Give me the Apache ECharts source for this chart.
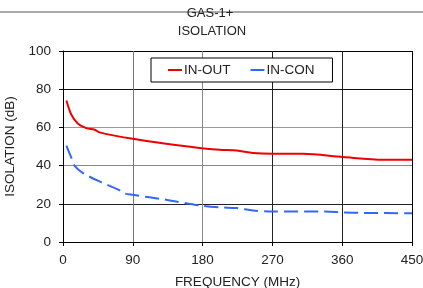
<!DOCTYPE html>
<html><head><meta charset="utf-8">
<script src="https://cdn.jsdelivr.net/npm/echarts@6/dist/echarts.min.js"></script>
<style>html,body{margin:0;padding:0;background:#fff}#c{width:423px;height:288px}</style>
</head><body><div id="c"></div>
<script>
const titleLines = ['GAS-1+', 'ISOLATION'];
const xTicks = [0, 90, 180, 270, 360, 450];
const yTicks = [0, 20, 40, 60, 80, 100];
const inOutFreq = [4.4, 10.8, 19.4, 30, 41, 47, 90, 133, 176, 202, 224, 245, 270, 309, 361, 413, 450];
const inOutVal  = [74.1, 66.6, 61.9, 59.6, 58.8, 57.4, 54, 51.4, 49.2, 48.3, 47.9, 46.6, 46.2, 46.2, 44.5, 43.1, 43.1];
const inConFreq = [4.4, 10.8, 15, 25.8, 47, 72, 78, 90, 133, 176, 202, 224, 245, 270, 338, 361, 388, 450];
const inConVal  = [50.4, 44, 39.9, 36.1, 31.7, 27.3, 25.6, 24.7, 22.1, 19.1, 18.1, 17.8, 16.5, 16, 16, 15.5, 15.2, 15.1];

const font = '"Liberation Sans", Arial, sans-serif';
const chart = echarts.init(document.getElementById('c'));
chart.setOption({
  animation: false,
  graphic: [
    {type: 'line', shape: {x1: 0, y1: 12, x2: 423, y2: 12}, style: {stroke: '#555', lineWidth: 1}, z: 0},
    {type: 'text', x: 210, y: 7, style: {text: titleLines[0], font: '13px ' + font, fill: '#222', align: 'center'}, z: 5},
    {type: 'text', x: 212, y: 25, style: {text: titleLines[1], font: '13px ' + font, fill: '#222', align: 'center'}}
  ],
  legend: {
    left: 151, top: 58,
    padding: [5, 18, 5, 17],
    borderColor: '#000', borderWidth: 1, backgroundColor: '#fff',
    itemWidth: 14, itemHeight: 2, itemGap: 20,
    icon: 'rect',
    textStyle: {fontFamily: font, fontSize: 13.5, color: '#222', padding: [0, 0, 0, -3]},
    data: ['IN-OUT', 'IN-CON']
  },
  grid: {left: 63, right: 11, top: 51, bottom: 46, containLabel: false, outerBoundsMode: 'none'},
  xAxis: {
    type: 'value', min: xTicks[0], max: xTicks[xTicks.length - 1], interval: 90,
    name: 'FREQUENCY (MHz)', nameLocation: 'middle', nameGap: 33,
    nameTextStyle: {fontFamily: font, fontSize: 13.5, color: '#222'},
    axisLine: {lineStyle: {color: '#000', width: 1}},
    axisTick: {show: true, length: 4, lineStyle: {color: '#000'}},
    axisLabel: {fontFamily: font, fontSize: 13.5, color: '#222', margin: 11},
    splitLine: {show: true, lineStyle: {color: ['#000', '#777', '#888', '#222', '#222', '#000'], width: 1}}
  },
  yAxis: {
    type: 'value', min: yTicks[0], max: yTicks[yTicks.length - 1], interval: 20,
    name: 'ISOLATION (dB)', nameLocation: 'middle', nameGap: 35,
    nameTextStyle: {fontFamily: font, fontSize: 13.5, color: '#222'},
    axisLine: {show: true, lineStyle: {color: '#000', width: 1}},
    axisTick: {show: true, length: 4, lineStyle: {color: '#000'}},
    axisLabel: {fontFamily: font, fontSize: 13.5, color: '#222', margin: 12},
    splitLine: {show: true, lineStyle: {color: ['#000', '#222', '#888', '#999', '#111', '#000'], width: 1}}
  },
  series: [
    {name: 'IN-OUT', type: 'line', smooth: 0.3, showSymbol: false, symbol: 'none',
     lineStyle: {color: '#ee0000', width: 2}, itemStyle: {color: '#ee0000'},
     data: inOutFreq.map((f, i) => [f, inOutVal[i]])},
    {name: 'IN-CON', type: 'line', smooth: 0.3, showSymbol: false, symbol: 'none',
     lineStyle: {color: '#3366ff', width: 2, type: [14, 6]}, itemStyle: {color: '#3366ff'},
     data: inConFreq.map((f, i) => [f, inConVal[i]])}
  ]
});
</script></body></html>
